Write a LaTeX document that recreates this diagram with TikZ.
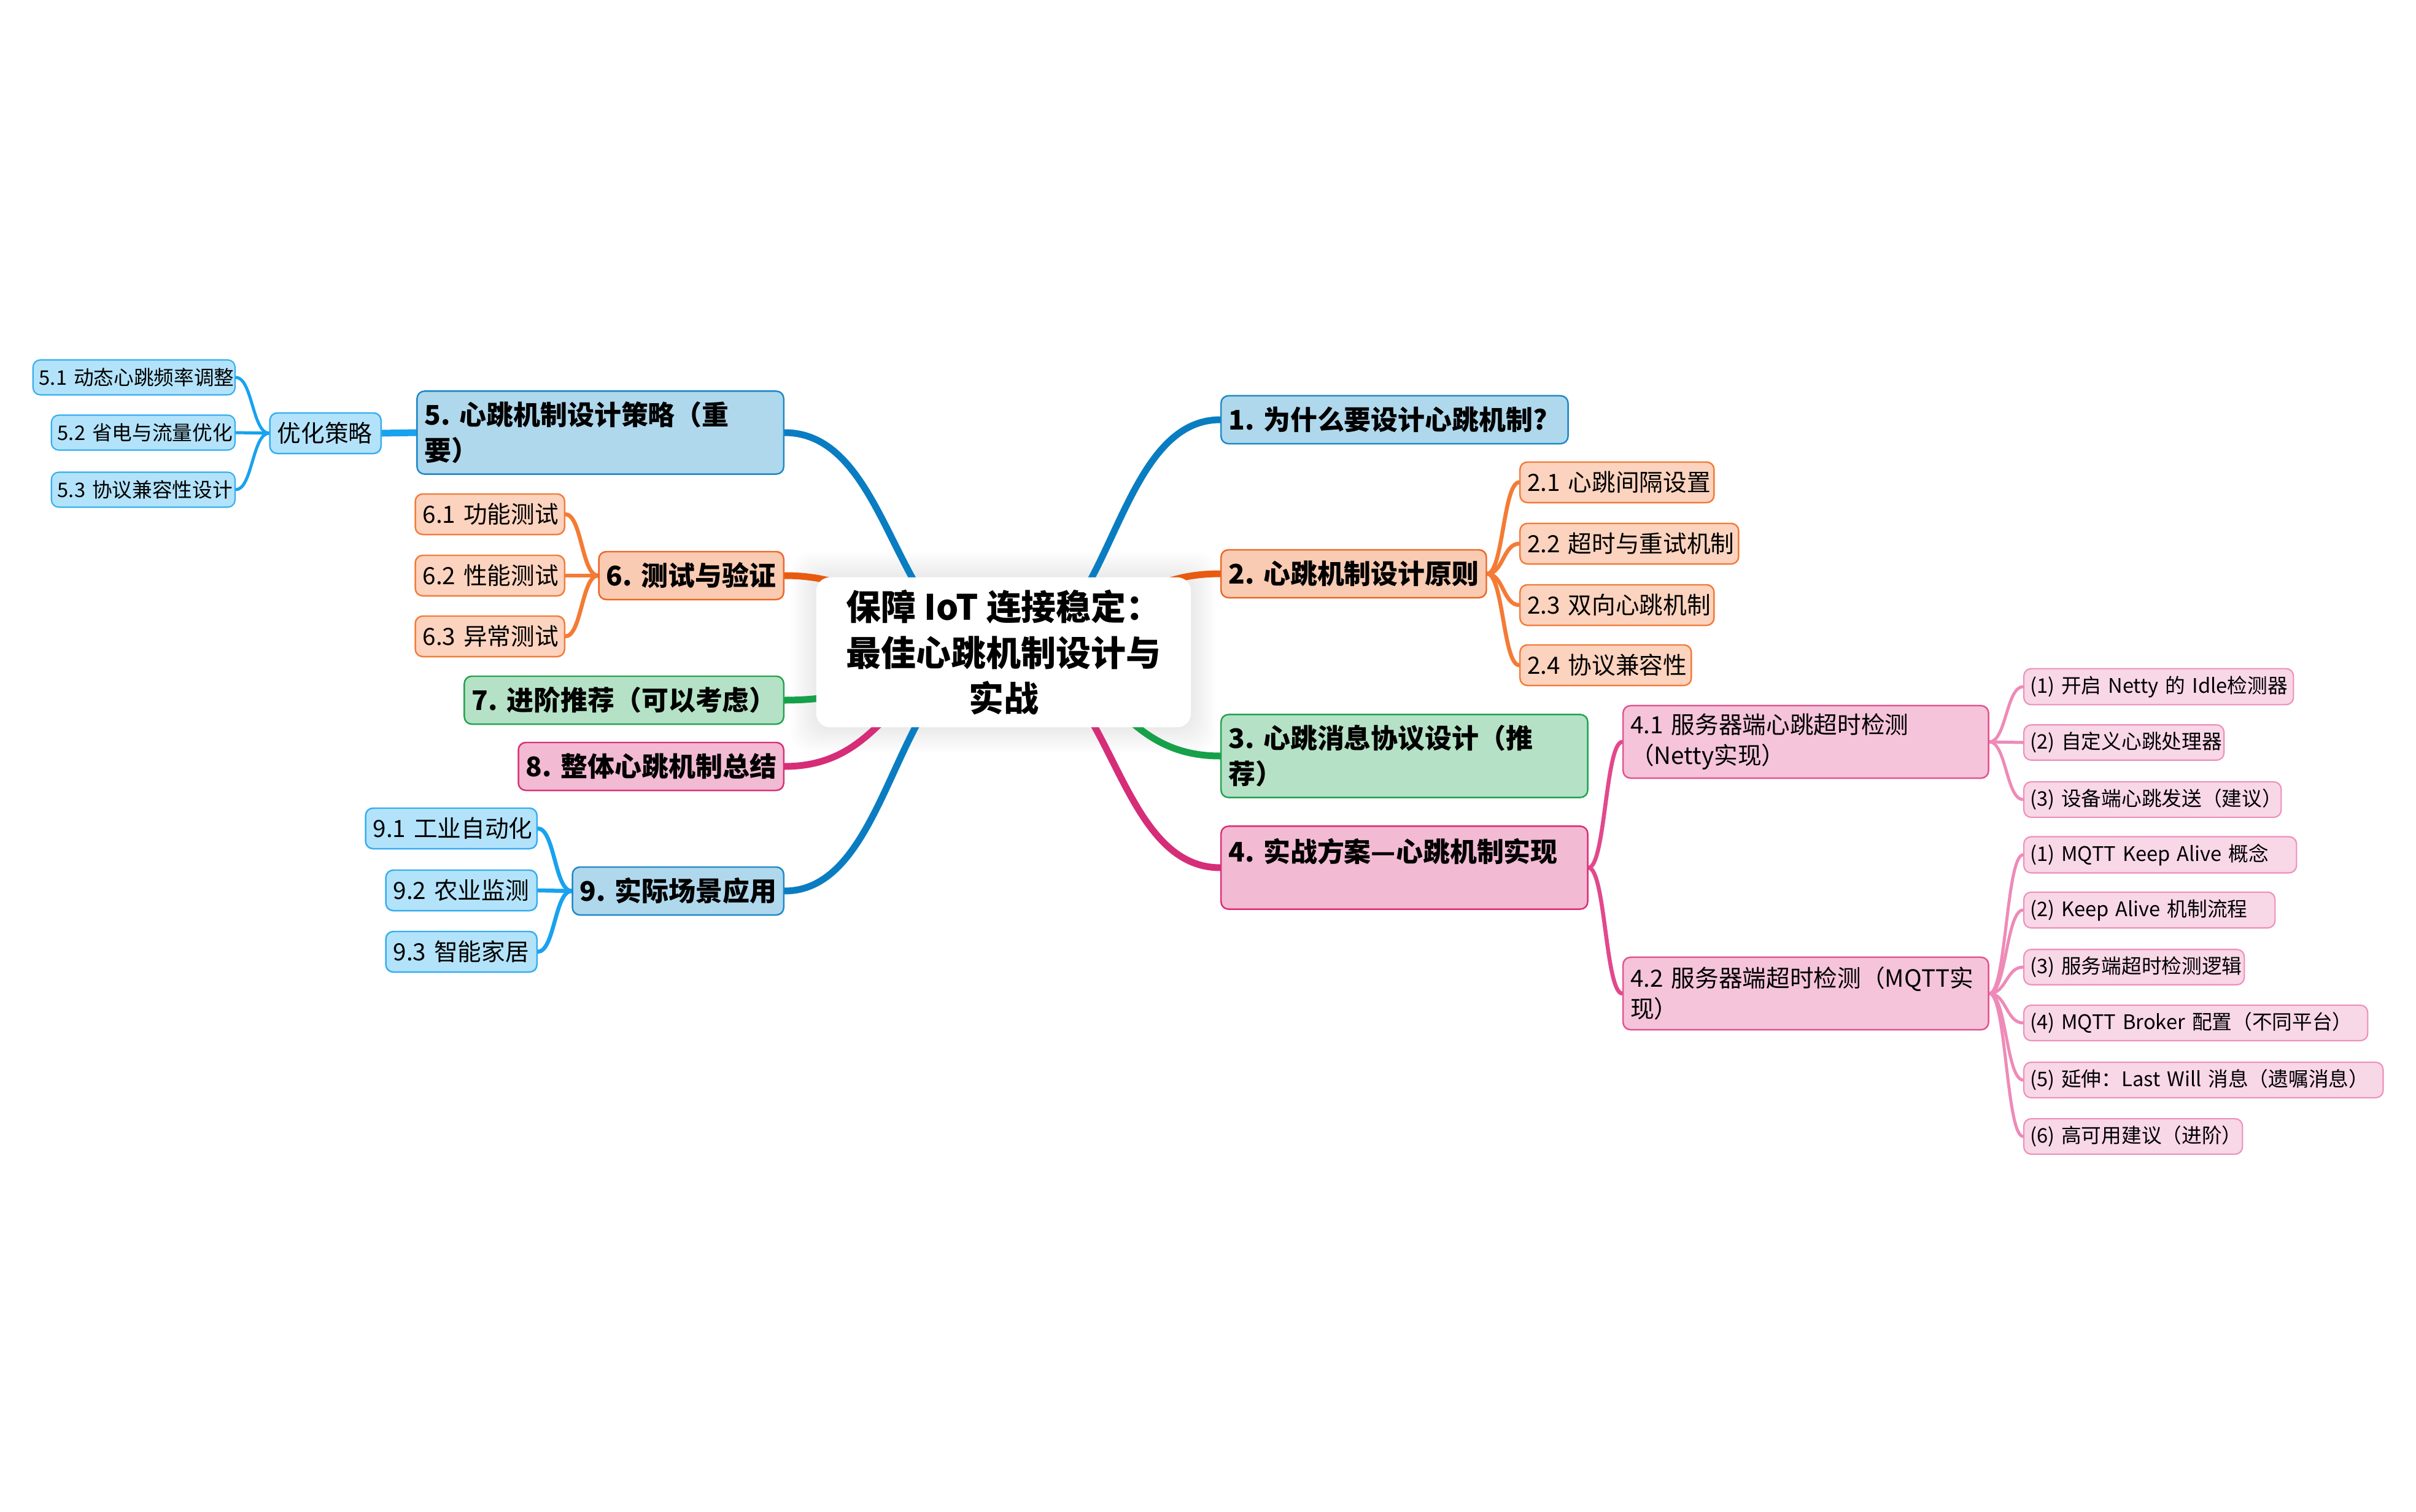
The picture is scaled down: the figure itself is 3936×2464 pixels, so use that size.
\documentclass[tikz,border=0pt]{standalone}
\usepackage{fontspec}
\setmainfont{Noto Sans CJK SC}
\usepackage{tikz}
\usetikzlibrary{calc,backgrounds}
\usepackage{xcolor}
\definecolor{bluefill}{RGB}{175,216,236}
\definecolor{blueedge}{RGB}{30,136,200}
\definecolor{bluelink}{RGB}{10,125,194}
\definecolor{skyfill}{RGB}{179,227,250}
\definecolor{skyedge}{RGB}{53,174,240}
\definecolor{skylink}{RGB}{24,162,239}
\definecolor{orangefill}{RGB}{249,203,178}
\definecolor{orangeedge}{RGB}{238,101,36}
\definecolor{orangelink}{RGB}{232,90,16}
\definecolor{peachfill}{RGB}{251,211,190}
\definecolor{peachedge}{RGB}{244,123,58}
\definecolor{peachlink}{RGB}{244,123,53}
\definecolor{greenfill}{RGB}{181,226,198}
\definecolor{greenedge}{RGB}{36,162,78}
\definecolor{greenlink}{RGB}{23,160,74}
\definecolor{pinkfill}{RGB}{242,186,211}
\definecolor{pinkedge}{RGB}{219,46,120}
\definecolor{pinklink}{RGB}{214,45,120}
\definecolor{rosefill}{RGB}{245,196,218}
\definecolor{roseedge}{RGB}{226,82,142}
\definecolor{roselink}{RGB}{226,72,140}
\definecolor{blushfill}{RGB}{248,215,231}
\definecolor{blushedge}{RGB}{238,143,187}
\definecolor{blushlink}{RGB}{238,138,184}

\begin{document}
\begin{tikzpicture}[x=0.01cm,y=-0.01cm,
  box/.style={rectangle,rounded corners=0.12cm,line width=0.7pt,align=left},
  topic/.style={box,font=\fontsize{12.5}{16.5}\selectfont\bfseries,minimum height=0.78cm,inner xsep=0.12cm},
  twoline/.style={minimum height=1.35cm},
  subtopic/.style={box,font=\fontsize{11}{14.2}\selectfont,minimum height=0.66cm,inner xsep=0.12cm},
  leaf/.style={box,font=\fontsize{9.3}{12}\selectfont,minimum height=0.57cm,inner xsep=0.1cm,line width=0.6pt},
  bluebox/.style={fill=bluefill,draw=blueedge},
  skybox/.style={fill=skyfill,draw=skyedge},
  orangebox/.style={fill=orangefill,draw=orangeedge},
  peachbox/.style={fill=peachfill,draw=peachedge},
  greenbox/.style={fill=greenfill,draw=greenedge},
  pinkbox/.style={fill=pinkfill,draw=pinkedge},
  rosebox/.style={fill=rosefill,draw=roseedge},
  blushbox/.style={fill=blushfill,draw=blushedge},
  link/.style={line cap=round,to path={let \p1=(\tikztostart),\p2=(\tikztotarget) in
    .. controls ({(\x1+\x2)/2},\y1) and ({(\x1+\x2)/2},\y2) .. (\tikztotarget)}},
  mainlink/.style={link,line width=0.11cm},
  sublink/.style={link,line width=0.065cm},
  leaflink/.style={link,line width=0.05cm}]
\useasboundingbox (0,0) rectangle (3936,2464);

\node[rectangle,fill=white,rounded corners=0.22cm,minimum width=6.1cm,minimum height=2.44cm,
  align=center,font=\fontsize{16.2}{21.3}\selectfont\bfseries] (root) at (1635,1063)
  {保障 IoT 连接稳定：\\最佳心跳机制设计与\\实战};

\node[topic,bluebox,anchor=west,text width=5.41cm] (n1) at (1988,684) {1.~为什么要设计心跳机制?};
\node[topic,orangebox,anchor=west,text width=4.08cm] (n2) at (1988,935) {2.~心跳机制设计原则};
\node[subtopic,peachbox,anchor=west,text width=2.92cm] (n21) at (2475,786) {2.1~心跳间隔设置};
\node[subtopic,peachbox,anchor=west,text width=3.32cm] (n22) at (2475,886) {2.2~超时与重试机制};
\node[subtopic,peachbox,anchor=west,text width=2.92cm] (n23) at (2475,986) {2.3~双向心跳机制};
\node[subtopic,peachbox,anchor=west,text width=2.55cm] (n24) at (2475,1084) {2.4~协议兼容性};
\node[topic,twoline,greenbox,anchor=west,text width=5.73cm] (n3) at (1988,1232) {3.~心跳消息协议设计（推\\荐）};
\node[topic,twoline,pinkbox,anchor=west,text width=5.73cm] (n4) at (1988,1414) {4.~实战方案—心跳机制实现\\\mbox{}};
\node[subtopic,rosebox,anchor=west,text width=5.71cm,minimum height=1.18cm] (n41) at (2643,1209) {4.1~服务器端心跳超时检测\\（Netty实现）};
\node[subtopic,rosebox,anchor=west,text width=5.71cm,minimum height=1.18cm] (n42) at (2643,1619) {4.2~服务器端超时检测（MQTT实\\现）};
\node[leaf,blushbox,anchor=west,text width=4.19cm] (n411) at (3296,1119) {(1)~开启~Netty~的~Idle检测器};
\node[leaf,blushbox,anchor=west,text width=3.06cm] (n412) at (3296,1210) {(2)~自定义心跳处理器};
\node[leaf,blushbox,anchor=west,text width=3.99cm] (n413) at (3296,1303) {(3)~设备端心跳发送（建议）};
\node[leaf,blushbox,anchor=west,text width=4.24cm] (n421) at (3296,1393) {(1)~MQTT~Keep~Alive~概念};
\node[leaf,blushbox,anchor=west,text width=3.89cm] (n422) at (3296,1483) {(2)~Keep~Alive~机制流程};
\node[leaf,blushbox,anchor=west,text width=3.39cm] (n423) at (3296,1576) {(3)~服务端超时检测逻辑};
\node[leaf,blushbox,anchor=west,text width=5.40cm] (n424) at (3296,1667) {(4)~MQTT~Broker~配置（不同平台）};
\node[leaf,blushbox,anchor=west,text width=5.65cm] (n425) at (3296,1760) {(5)~延伸：Last~Will~消息（遗嘱消息）};
\node[leaf,blushbox,anchor=west,text width=3.36cm] (n426) at (3296,1852) {(6)~高可用建议（进阶）};

\node[topic,twoline,bluebox,anchor=east,text width=5.73cm] (n5) at (1278,705) {5.~心跳机制设计策略（重\\要）};
\node[subtopic,skybox,anchor=east,text width=1.57cm] (n50) at (622,706) {优化策略};
\node[leaf,skybox,anchor=east,text width=3.09cm] (n51) at (384,615) {5.1~动态心跳频率调整};
\node[leaf,skybox,anchor=east,text width=2.79cm] (n52) at (384,705) {5.2~省电与流量优化};
\node[leaf,skybox,anchor=east,text width=2.79cm] (n53) at (384,798) {5.3~协议兼容性设计};
\node[topic,orangebox,anchor=east,text width=2.77cm] (n6) at (1278,938) {6.~测试与验证};
\node[subtopic,peachbox,anchor=east,text width=2.19cm] (n61) at (921,838) {6.1~功能测试};
\node[subtopic,peachbox,anchor=east,text width=2.19cm] (n62) at (921,938) {6.2~性能测试};
\node[subtopic,peachbox,anchor=east,text width=2.19cm] (n63) at (921,1037) {6.3~异常测试};
\node[topic,greenbox,anchor=east,text width=4.96cm] (n7) at (1278,1141) {7.~进阶推荐（可以考虑）};
\node[topic,pinkbox,anchor=east,text width=4.08cm] (n8) at (1278,1249) {8.~整体心跳机制总结};
\node[topic,bluebox,anchor=east,text width=3.20cm] (n9) at (1278,1452) {9.~实际场景应用};
\node[subtopic,skybox,anchor=east,text width=2.55cm] (n91) at (876,1350) {9.1~工业自动化};
\node[subtopic,skybox,anchor=east,text width=2.22cm] (n92) at (876,1451) {9.2~农业监测};
\node[subtopic,skybox,anchor=east,text width=2.22cm] (n93) at (876,1551) {9.3~智能家居};

\begin{scope}[on background layer]
\fill[white] (0,0) rectangle (3936,2464);
\foreach \d in {4,8,...,40}
  \fill[black,opacity=0.008,rounded corners=0.3cm] ($(root.south west)+(-\d,\d)$) rectangle ($(root.north east)+(\d,-\d)$);
\draw[mainlink,bluelink] (root.center) to (n1.west);
\draw[mainlink,orangelink] (root.center) to (n2.west);
\draw[mainlink,greenlink] (root.center) to (n3.west);
\draw[mainlink,pinklink] (root.center) to (n4.west);
\draw[mainlink,bluelink] (root.center) to (n5.east);
\draw[mainlink,orangelink] (root.center) to (n6.east);
\draw[mainlink,greenlink] (root.center) to (n7.east);
\draw[mainlink,pinklink] (root.center) to (n8.east);
\draw[mainlink,bluelink] (root.center) to (n9.east);
\foreach \k in {n21,n22,n23,n24}
  \draw[sublink,peachlink] (n2.east) to (\k.west);
\draw[sublink,roselink] (n4.east) to (n41.west);
\draw[sublink,roselink] (n4.east) to (n42.west);
\foreach \k in {n411,n412,n413}
  \draw[leaflink,blushlink] (n41.east) to (\k.west);
\foreach \k in {n421,n422,n423,n424,n425,n426}
  \draw[leaflink,blushlink] (n42.east) to (\k.west);
\draw[mainlink,skylink] (n5.west) to (n50.east);
\foreach \k in {n51,n52,n53}
  \draw[leaflink,skylink] (n50.west) to (\k.east);
\foreach \k in {n61,n62,n63}
  \draw[sublink,peachlink] (n6.west) to (\k.east);
\foreach \k in {n91,n92,n93}
  \draw[sublink,skylink] (n9.west) to (\k.east);
\end{scope}
\end{tikzpicture}
\end{document}
